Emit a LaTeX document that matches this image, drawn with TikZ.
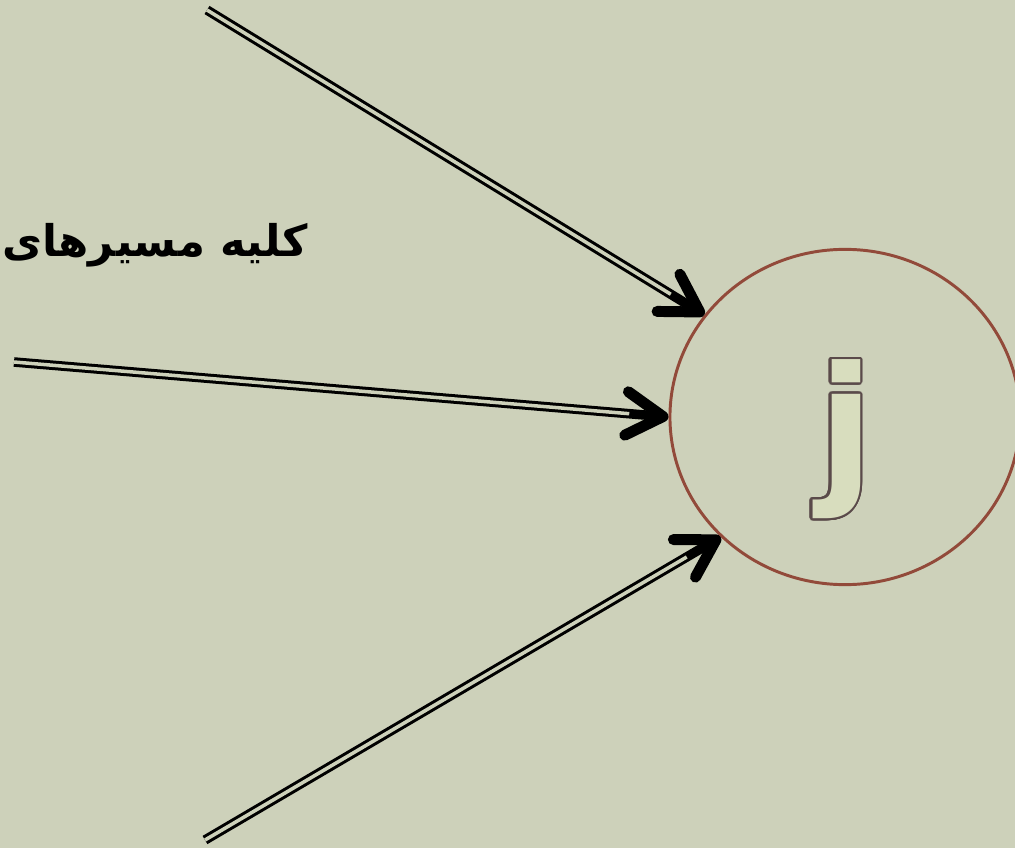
\documentclass[tikz,border=0pt]{standalone}
\usepackage{fontspec}
\usepackage{xcolor}
\usepackage{contour}
\usepackage{tikz}
\usetikzlibrary{arrows.meta,shapes.geometric,calc}
\TeXXeTstate=1
\newfontfamily\persianfont[Script=Arabic]{DejaVu Sans}
\newfontfamily\letterfont{DejaVu Sans}
\definecolor{bgcol}{RGB}{205,209,186}
\definecolor{rim}{RGB}{146,74,58}
\definecolor{letterfill}{RGB}{216,221,190}
\definecolor{letteredge}{RGB}{90,74,74}
\contourlength{1.5pt}
\contournumber{32}

\begin{document}
\begin{tikzpicture}[
    x=0.025cm,y=-0.025cm,
    route/.style={draw=black,line width=6.8pt,
      -{Straight Barb[length=26pt,width=31pt,line width=7.8pt,round]},
      postaction={draw=bgcol,line width=2.5pt,-,shorten >=28pt}},
    vertex/.style={ellipse,draw=rim,line width=2.1pt,inner sep=0pt,
      minimum width=8.75cm,minimum height=8.38cm},
    letter/.style={inner sep=0pt,
      font=\letterfont\bfseries\fontsize{116}{116}\selectfont},
    caption/.style={anchor=east,inner sep=0pt,
      font=\persianfont\bfseries\fontsize{31}{36}\selectfont}
  ]
    \fill[bgcol] (0,0) rectangle (1015,848);
    \useasboundingbox (0,0) rectangle (1015,848);

    % the node j and its label
    \node[vertex] (j) at (845,417) {};
    \node[letter] (jtext) at ($(j.center)+(1,23)$)
      {\contour{letteredge}{\textcolor{letterfill}{j}}};

    % incoming paths
    \node[caption] (all) at (308,245) {\beginR کلیه مسیرهای\endR};
    \coordinate (s1) at (207,10);
    \coordinate (s2) at (14,362);
    \coordinate (s3) at (205,840);

    \draw[route] (s1) -- (j.144);
    \draw[route] (s2) -- (j.180);
    \draw[route] (s3) -- (j.224);
  \end{tikzpicture}
\end{document}
